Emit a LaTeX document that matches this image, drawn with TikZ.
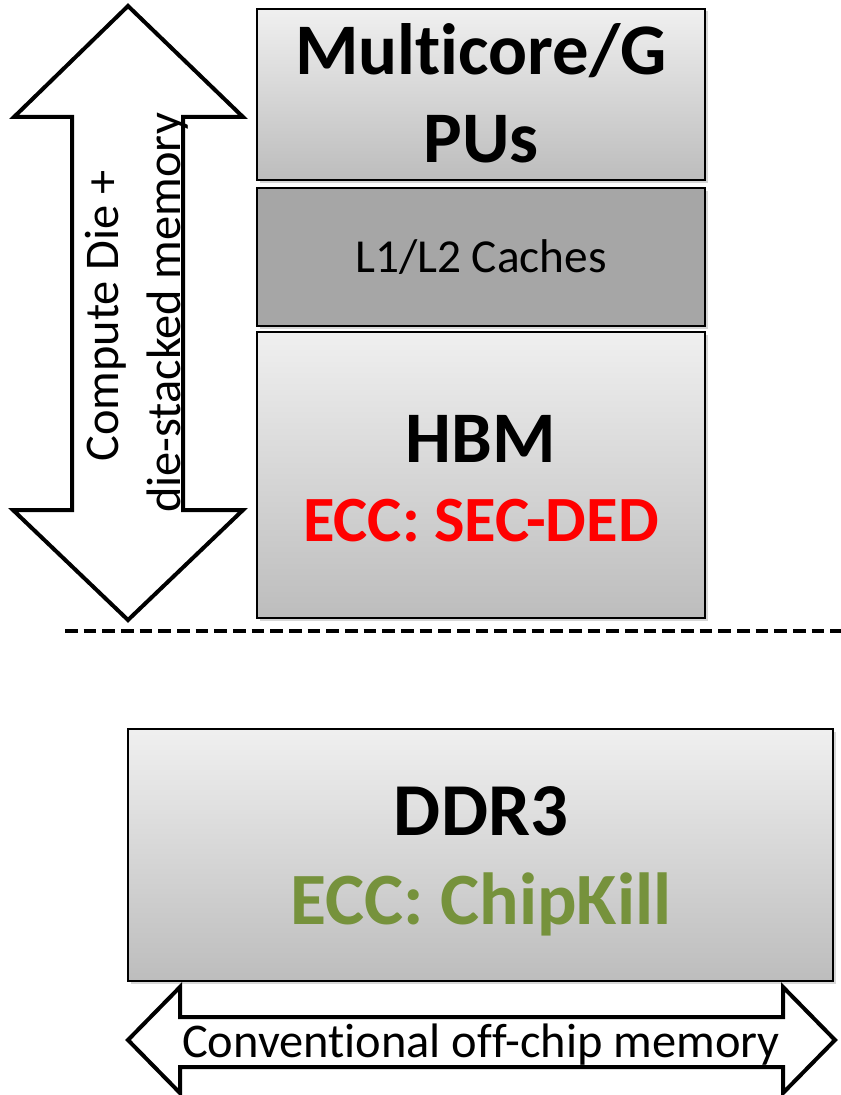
\documentclass[tikz,border=0pt]{standalone}
\usepackage{fontspec}
\setmainfont{Carlito}[Ligatures={NoCommon}]
\definecolor{eccred}{HTML}{FF0000}
\definecolor{eccgreen}{HTML}{76923C}
\definecolor{cachegray}{HTML}{A6A6A6}
\begin{document}
\begin{tikzpicture}[x=0.75pt,y=-0.75pt,
  box/.style={draw=black, line width=1.5pt, top color=black!6, bottom color=black!26, inner sep=0pt},
  shadowbox/.style={fill=black!35, opacity=0.45, draw=none, inner sep=0pt},
  bigarrow/.style={draw=black, line width=3pt, fill=white, line join=miter},
  titletxt/.style={font=\fontsize{54.5pt}{66pt}\selectfont\bfseries, anchor=base, inner sep=0pt},
  plaintxt/.style={font=\fontsize{35.5pt}{42pt}\selectfont, anchor=base, inner sep=0pt},
  sidetxt/.style={font=\fontsize{36.3pt}{44pt}\selectfont, anchor=base, inner sep=0pt, rotate=90}]
\useasboundingbox (0,0) rectangle (841,1095);

% shadows
\node[shadowbox, minimum width=336pt, minimum height=128.25pt] at (483.5,97) {};
\node[shadowbox, minimum width=336pt, minimum height=103.5pt] at (483.5,259.5) {};
\node[shadowbox, minimum width=336pt, minimum height=214.5pt] at (483.5,477.5) {};
\node[shadowbox, minimum width=528.75pt, minimum height=189pt] at (483,857.5) {};

% boxes
\node[box, minimum width=336pt, minimum height=128.25pt] (mc) at (481,94.5) {};
\node[draw=black, line width=1.5pt, fill=cachegray, inner sep=0pt, minimum width=336pt, minimum height=103.5pt] (cache) at (481,257) {};
\node[box, minimum width=336pt, minimum height=214.5pt] (hbm) at (481,475) {};
\node[box, minimum width=528.75pt, minimum height=189pt] (ddr) at (480.5,855) {};

% box texts
\node[titletxt] (mc1) at (481,75) {Mult\kern0pt icore/G};
\node[titletxt] (mc2) at (481,163) {PUs};
\node[plaintxt] (cachetxt) at (481,272) {L1/L2 Caches};
\node[titletxt] (hbmtxt) at (481,462) {HBM};
\node[titletxt, font=\fontsize{48.4pt}{58pt}\selectfont\bfseries, text=eccred] (hbmecc) at (481,541) {ECC: SEC-DED};
\node[titletxt, font=\fontsize{56pt}{66pt}\selectfont\bfseries] (ddrtxt) at (481,835) {DDR3};
\node[titletxt, font=\fontsize{55.3pt}{66pt}\selectfont\bfseries, text=eccgreen] (ddrecc) at (481,924) {ECC: ChipKill};

% dashed separator
\coordinate (dl) at (65,631);
\coordinate (dr) at (841,631);
\draw[line width=2.8pt, dash pattern=on 9.5pt off 4.5pt] (dl) -- (dr);

% vertical double arrow
\draw[bigarrow] (128,6) -- (243,117) -- (183,117) -- (183,510) -- (243,510) -- (128,620)
  -- (13,510) -- (72,510) -- (72,117) -- (14,117) -- cycle;
\node[sidetxt] (side1) at (118,316) {Compute Die +};
\node[sidetxt] (side2) at (180,313) {die-stacked memory};

% horizontal double arrow
\draw[bigarrow] (128,1040) -- (180,987) -- (180,1017) -- (783,1017) -- (783,987) -- (835,1040)
  -- (783,1093) -- (783,1067) -- (180,1067) -- (180,1093) -- cycle;
\node[plaintxt, font=\fontsize{36.3pt}{44pt}\selectfont] (conv) at (481,1057) {Conventional of\kern0pt f-chip memory};
\end{tikzpicture}
\end{document}
